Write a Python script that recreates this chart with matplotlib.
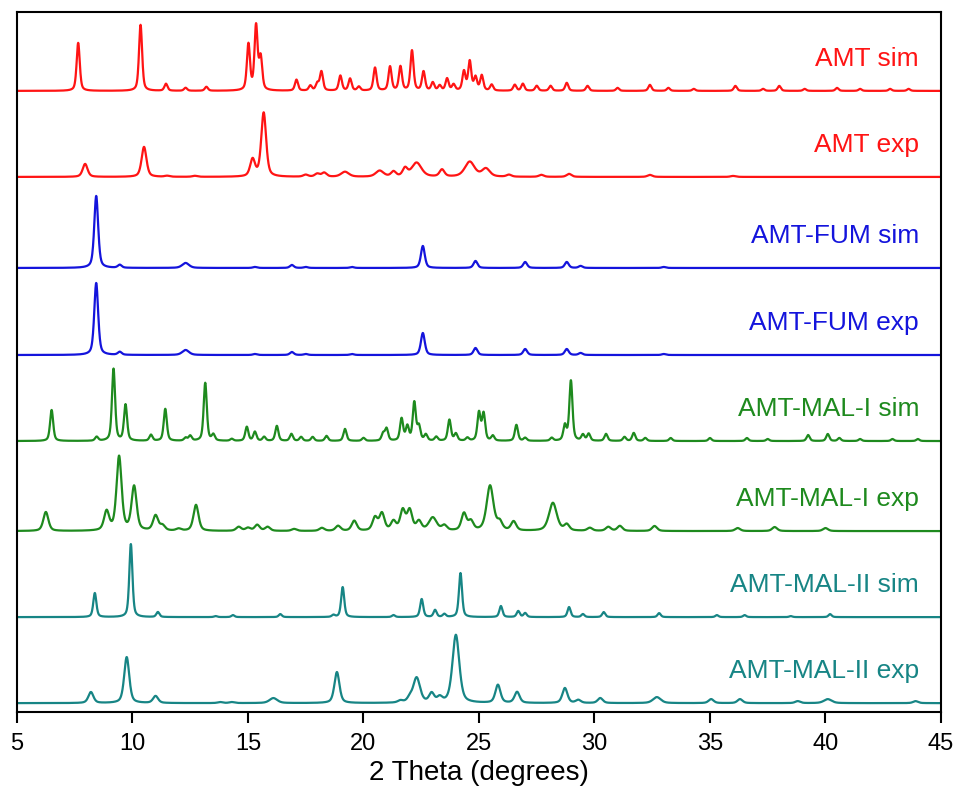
import numpy as np
import matplotlib
matplotlib.use('Agg')
import matplotlib.pyplot as plt

plt.rcParams['font.family'] = ['Liberation Sans', 'DejaVu Sans']

# peak tables: (2theta, height[, fwhm])
amt_sim = [(7.65, 48), (10.35, 66), (11.45, 7), (12.3, 3), (13.2, 4), (15.02, 46), (15.35, 64),
           (15.55, 32), (17.1, 11), (17.7, 5), (18.0, 7), (18.18, 19), (19.0, 15), (19.42, 12),
           (19.8, 4), (20.5, 23), (21.15, 24), (21.6, 24), (22.1, 40), (22.6, 19), (23.0, 8),
           (23.3, 5), (23.62, 12), (23.9, 6), (24.35, 19), (24.6, 29), (24.85, 13), (25.12, 15),
           (25.55, 6), (26.55, 6), (26.9, 7), (27.5, 5), (28.1, 5), (28.8, 8), (29.7, 5),
           (31.0, 3), (32.4, 6), (33.2, 3), (34.3, 2), (36.1, 5), (37.3, 2), (38.0, 5),
           (39.1, 2), (40.5, 3), (41.5, 2), (42.8, 2), (43.6, 2)]
amt_exp = [(7.95, 13), (10.5, 30), (11.5, 1), (12.7, 1), (15.2, 17), (15.68, 64), (17.5, 2),
           (18.0, 3), (18.3, 4), (19.2, 5, 0.4), (20.7, 6, 0.4), (21.3, 5), (21.8, 8),
           (22.3, 14, 0.5), (23.4, 7), (24.6, 15, 0.5), (25.3, 8, 0.4), (26.3, 2), (27.7, 2),
           (28.9, 3), (32.4, 2), (36.0, 1)]
fum_sim = [(8.43, 72), (9.45, 3), (12.3, 5, 0.35), (15.3, 1), (16.9, 3), (17.5, 1), (19.5, 1),
           (22.57, 22), (24.85, 7), (27.0, 6), (28.8, 6), (29.4, 2), (33.0, 1)]
fum_exp = [(8.43, 72), (9.45, 3), (12.3, 5, 0.35), (15.3, 1), (16.9, 3), (17.5, 1), (19.5, 1),
           (22.57, 22), (24.85, 7), (27.0, 6), (28.8, 6), (29.4, 2), (33.0, 1)]
mal1_sim = [(6.5, 31), (8.45, 4), (9.18, 72), (9.7, 36), (10.8, 6), (11.42, 32), (12.3, 3),
            (12.5, 5), (13.15, 58), (13.5, 6), (14.3, 2), (14.95, 14), (15.3, 9), (15.7, 4),
            (16.25, 15), (16.88, 7), (17.3, 4), (17.8, 4), (18.4, 5), (19.2, 12), (20.0, 3),
            (20.85, 7), (21.0, 12), (21.65, 22), (21.9, 14), (22.2, 38), (22.4, 14), (22.7, 6),
            (23.15, 4), (23.72, 21), (24.0, 7), (24.5, 3), (25.0, 28), (25.2, 27), (25.6, 5),
            (26.62, 16), (27.0, 3), (28.15, 3), (28.72, 15), (28.98, 60), (29.5, 6), (29.75, 7),
            (30.5, 7), (31.3, 4), (31.7, 8), (32.2, 3), (33.3, 3), (35.0, 3), (36.6, 3),
            (37.5, 2), (39.25, 6), (40.1, 7), (40.6, 3), (41.5, 2), (42.9, 2), (44.0, 2)]
mal1_exp = [(6.25, 19), (8.88, 19), (9.42, 74), (10.07, 44), (11.0, 15), (11.3, 5), (12.0, 2),
            (12.75, 26), (14.6, 4), (15.0, 3), (15.4, 6), (15.85, 4), (17.0, 2), (18.2, 3),
            (18.9, 5), (19.6, 10), (20.5, 13), (20.8, 17), (21.3, 9), (21.7, 20), (22.0, 20),
            (22.4, 9), (23.0, 13, 0.4), (23.5, 5), (24.35, 17), (24.65, 9), (25.48, 45, 0.35),
            (25.9, 8), (26.5, 9), (28.2, 28, 0.4), (28.8, 6), (29.8, 3), (30.6, 4), (31.1, 5),
            (32.6, 5), (36.2, 3), (37.8, 4), (40.0, 3)]
mal2_sim = [(8.37, 24), (9.93, 73), (11.1, 5), (13.6, 1), (14.35, 2), (16.4, 3), (18.7, 2),
            (19.1, 30), (21.3, 2), (22.52, 18), (23.1, 7), (23.5, 3), (24.2, 44), (25.95, 11),
            (26.7, 6), (27.0, 4), (28.9, 10), (29.5, 3), (30.4, 5), (32.8, 4), (35.3, 2),
            (36.5, 2), (38.5, 1), (40.2, 3)]
mal2_exp = [(8.2, 11), (9.75, 46), (11.0, 7), (13.8, 1), (14.3, 1), (16.1, 5, 0.4),
            (18.85, 31), (21.6, 2), (22.0, 4), (22.3, 25, 0.35), (22.95, 9), (23.3, 5),
            (24.0, 68, 0.35), (25.82, 18), (26.65, 11), (28.72, 15), (29.3, 3), (30.25, 5),
            (32.7, 6, 0.4), (35.05, 4), (36.3, 4), (38.8, 2), (40.1, 4, 0.4), (43.9, 2)]

names = ['AMT sim', 'AMT exp', 'AMT-FUM sim', 'AMT-FUM exp',
         'AMT-MAL-I sim', 'AMT-MAL-I exp', 'AMT-MAL-II sim', 'AMT-MAL-II exp']
patterns = [amt_sim, amt_exp, fum_sim, fum_exp, mal1_sim, mal1_exp, mal2_sim, mal2_exp]
colors = ['#ff1414', '#ff1414', '#1414dc', '#1414dc',
          '#1e8a1e', '#1e8a1e', '#178585', '#178585']
widths = [0.16, 0.25, 0.2, 0.2, 0.16, 0.26, 0.16, 0.26]
offsets = [621, 535, 444, 357, 271, 181, 95, 9]

tt = np.linspace(5, 45, 4001)


def profile(peaks, w0):
    y = np.zeros_like(tt)
    for p in peaks:
        pos, h = p[0], p[1]
        w = p[2] if len(p) > 2 else w0
        lor = 1.0 / (1.0 + ((tt - pos) / (w / 2)) ** 2)
        gau = np.exp(-np.log(2) * ((tt - pos) / (w / 2)) ** 2)
        y += h * (0.5 * lor + 0.5 * gau)
    return y


fig = plt.figure(figsize=(9.59, 8.04), dpi=100)
ax = fig.add_axes([0.0177, 0.113, 0.9635, 0.871])

for name, pk, c, w, off in zip(names, patterns, colors, widths, offsets):
    ax.plot(tt, profile(pk, w) + off, color=c, lw=1.6)
    ax.text(44.05, off + 33, name, color=c, fontsize=19, ha='right', va='center')

ax.set_xlim(5, 45)
ax.set_ylim(0, 700)
ax.set_xticks(np.arange(5, 46, 5))
ax.set_yticks([])
ax.tick_params(axis='x', direction='out', length=8, width=1.5, labelsize=17, pad=6)
for s in ax.spines.values():
    s.set_linewidth(1.5)
ax.set_xlabel('2 Theta (degrees)', fontsize=20, labelpad=4)

fig.savefig('out.png', dpi=100)
